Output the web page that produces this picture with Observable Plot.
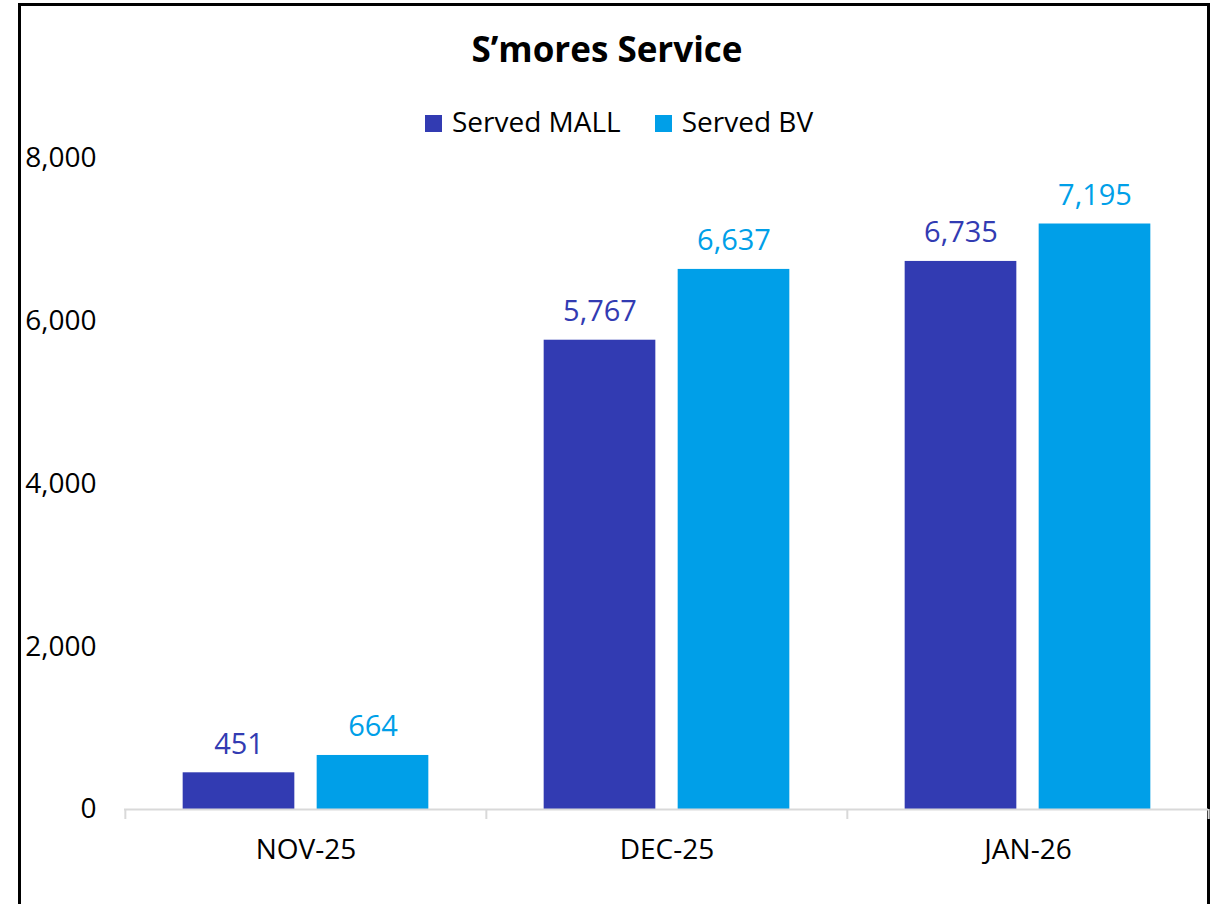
<!DOCTYPE html>
<html>
<head>
<meta charset="utf-8">
<script src="https://cdn.jsdelivr.net/npm/d3@7"></script>
<script src="https://cdn.jsdelivr.net/npm/@observablehq/plot@0.6"></script>
<style>
  body { margin: 0; background: #fff; font-family: "Open Sans", sans-serif; }
  #wrap { position: relative; width: 1214px; height: 904px; overflow: hidden; background: #fff; }
  #frame { position: absolute; left: 18px; top: 3px; width: 1186px; height: 1000px; border: 3px solid #000; }
  #title { position: absolute; left: 0; top: 27px; width: 1214px; text-align: center; font-weight: 700; font-size: 35px; line-height: 44px; color: #000; }
  #legend { position: absolute; left: 12px; top: 103px; width: 1214px; display: flex; justify-content: center; align-items: center; font-size: 28px; line-height: 36px; color: #000; }
  .item { display: flex; align-items: center; margin: 0 17px; }
  .sw { width: 17px; height: 17px; margin-right: 10px; position: relative; top: 2px; }
  #chart { position: absolute; left: 0; top: 110px; }
</style>
</head>
<body>
<div id="wrap">
  <div id="frame"></div>
  <div id="title">S’mores Service</div>
  <div id="legend"></div>
  <div id="chart"></div>
</div>
<script>
const months = ["NOV-25", "DEC-25", "JAN-26"];
const seriesNames = ["Served MALL", "Served BV"];
const mall = [451, 5767, 6735];
const bv = [664, 6637, 7195];
const colors = ["#323BB2", "#009FE8"];
const yTicks = [0, 2000, 4000, 6000, 8000];

const mallData = months.map((m, i) => ({month: m, series: seriesNames[0], value: mall[i]}));
const bvData = months.map((m, i) => ({month: m, series: seriesNames[1], value: bv[i]}));

// legend
const legend = document.getElementById("legend");
seriesNames.forEach((s, i) => {
  const it = document.createElement("div");
  it.className = "item";
  it.innerHTML = `<span class="sw" style="background:${colors[i]}"></span><span>${s}</span>`;
  legend.appendChild(it);
});

const W = 1214, H = 794, mL = 124, mR = 6, mT = 48, mB = 95;
const step = (W - mL - mR) / months.length;
const half = step / 2;
const fmt = d3.format(",");

const chart = Plot.plot({
  width: W,
  height: H,
  marginLeft: mL,
  marginRight: mR,
  marginTop: mT,
  marginBottom: mB,
  style: {fontFamily: "Open Sans, sans-serif", fontSize: "28px", color: "#000", background: "transparent"},
  x: {domain: months, padding: 0, label: null},
  y: {domain: [0, 8000], label: null},
  marks: [
    Plot.axisY({ticks: yTicks, tickFormat: fmt, tickSize: 0, tickPadding: 28, label: null, fontSize: 28}),
    Plot.barY(mallData, {x: "month", y: "value", fill: colors[0], insetLeft: half - 123, insetRight: half + 11}),
    Plot.barY(bvData, {x: "month", y: "value", fill: colors[1], insetLeft: half + 11, insetRight: half - 123}),
    Plot.ruleY([0], {stroke: "#d9d9d9", strokeWidth: 2}),
    Plot.axisX({tickSize: 10, tickFormat: () => "", stroke: "#d9d9d9", strokeWidth: 2, strokeOpacity: 1, dx: -half, label: null}),
    Plot.axisX({ticks: [months[months.length - 1]], tickSize: 10, tickFormat: () => "", stroke: "#d9d9d9", strokeWidth: 2, strokeOpacity: 1, dx: half, label: null}),
    Plot.axisX({tickSize: 0, tickPadding: 30, label: null, fontSize: 28}),
    Plot.text(mallData, {x: "month", y: "value", text: d => fmt(d.value), dx: -67, dy: -19, lineAnchor: "bottom", fill: colors[0], fontSize: 29}),
    Plot.text(bvData, {x: "month", y: "value", text: d => fmt(d.value), dx: 67, dy: -19, lineAnchor: "bottom", fill: colors[1], fontSize: 29})
  ]
});
document.getElementById("chart").appendChild(chart);
</script>
</body>
</html>
